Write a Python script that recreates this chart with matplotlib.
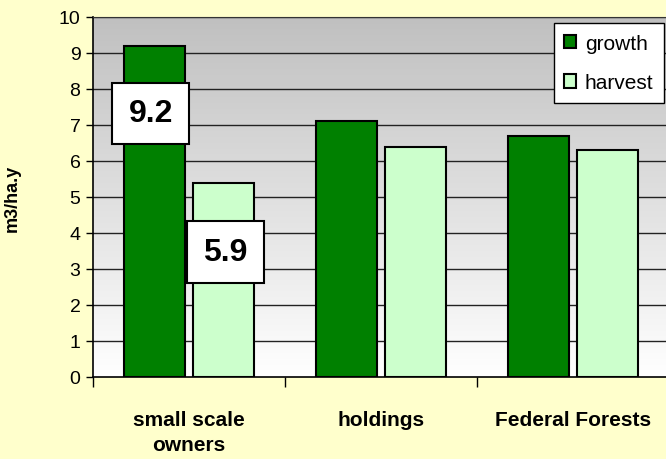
import numpy as np
import matplotlib.pyplot as plt
from matplotlib.colors import LinearSegmentedColormap
from matplotlib.ticker import FixedLocator

plt.rcParams['font.family'] = ['Liberation Sans', 'DejaVu Sans']

# data
categories = ['small scale\nowners', 'holdings', 'Federal Forests']
growth = [9.2, 7.1, 6.7]
harvest = [5.4, 6.4, 6.3]
series_names = ['growth', 'harvest']
box_labels = ['9.2', '5.9']
box_pos = [(-0.2, 7.32), (0.19, 3.46)]

fig = plt.figure(figsize=(6.66, 4.6), dpi=100, facecolor='#FFFFCC')
ax = fig.add_axes([93 / 666, 82 / 460, 576 / 666, 360 / 460])

x = np.arange(len(categories))
w = 0.32

# gradient background of plot area (gray top -> white bottom)
grad = np.linspace(0, 1, 256).reshape(-1, 1)
cmap = LinearSegmentedColormap.from_list('g', ['#C0C0C0', '#FFFFFF'])
ax.imshow(grad, cmap=cmap, aspect='auto', extent=[-0.5, 2.5, 0, 10],
          origin='upper', zorder=0)
ax.set_xlim(-0.5, 2.5)
ax.set_ylim(0, 10)

for yv in range(1, 11):
    ax.axhline(yv, color='#222222', lw=1, zorder=1)

ax.bar(x - 0.18, growth, w, color='#008000', edgecolor='black', lw=1.5,
       label=series_names[0], zorder=2)
ax.bar(x + 0.18, harvest, w, color='#CCFFCC', edgecolor='black', lw=1.5,
       label=series_names[1], zorder=2)

for lab, (bx, by) in zip(box_labels, box_pos):
    ax.text(bx, by, lab, ha='center', va='center',
            fontsize=23, fontweight='bold', zorder=5,
            bbox=dict(boxstyle='square,pad=0.5', fc='white', ec='black', lw=1.5))

ax.set_yticks(range(11))
ax.tick_params(axis='y', labelsize=14, length=5, direction='out', width=1, pad=4)
ax.set_xticks(x)
ax.set_xticklabels(categories, fontsize=15, fontweight='bold', linespacing=1.4)
ax.tick_params(axis='x', which='major', length=0, pad=24)
ax.xaxis.set_minor_locator(FixedLocator([-0.5, 0.5, 1.5]))
ax.tick_params(axis='x', which='minor', length=7, width=1)
ax.set_ylabel('m3/ha.y', fontsize=13, fontweight='bold')
ax.yaxis.set_label_coords(-0.125, 0.5)

for s in ['left', 'bottom']:
    ax.spines[s].set_color('black')
    ax.spines[s].set_linewidth(1.2)
ax.spines['top'].set_color('#333333')
ax.spines['right'].set_visible(False)

leg = ax.legend(loc='upper right', bbox_to_anchor=(0.991, 0.983), borderaxespad=0,
                fontsize=15, handlelength=0.6, handleheight=0.6, fancybox=False,
                framealpha=1, edgecolor='black', labelspacing=1.0, handletextpad=0.4,
                borderpad=0.5)
leg.get_frame().set_linewidth(1)
leg.set_zorder(6)

fig.savefig('out.png', dpi=100, facecolor=fig.get_facecolor())
